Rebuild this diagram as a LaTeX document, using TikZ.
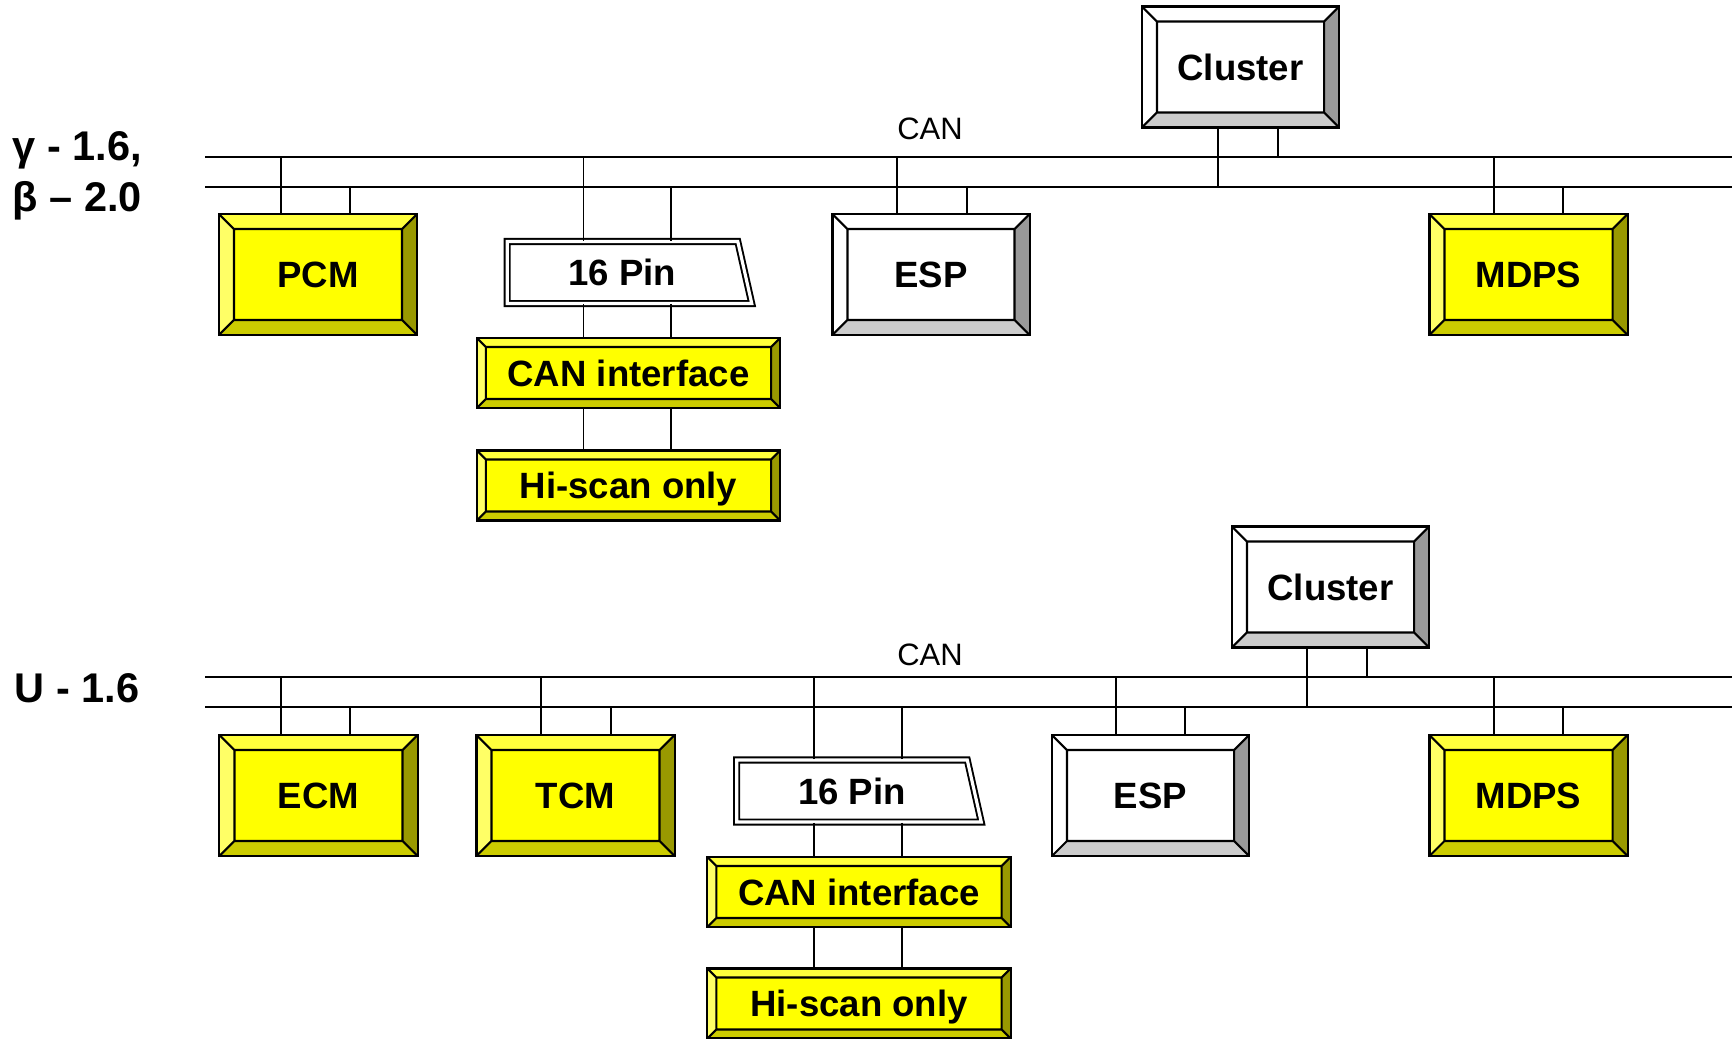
\documentclass[tikz,border=0pt]{standalone}
\usepackage{fontspec}
\setmainfont{Liberation Sans}
\usetikzlibrary{calc,shapes.geometric}
\definecolor{ecuface}{HTML}{FFFF00}
\definecolor{eculeft}{HTML}{FFFF66}
\definecolor{ecutop}{HTML}{FFFF3C}
\definecolor{ecuright}{HTML}{999900}
\definecolor{ecubottom}{HTML}{CCCC00}
\definecolor{greyright}{HTML}{999999}
\definecolor{greybottom}{HTML}{CCCCCC}
\newcommand{\boxfont}{\fontsize{10.4pt}{12pt}\selectfont\bfseries}
\newcommand{\carfont}{\fontsize{11.8pt}{14pt}\selectfont\bfseries}
\newcommand{\busfont}{\fontsize{8.8pt}{10pt}\selectfont}
\tikzset{
  bevel/.style n args={6}{rectangle, draw, line width=0.6pt, fill=#2, inner sep=0pt, font=\boxfont,
    text height=7.45pt, text depth=0pt,
    path picture={
      \coordinate (osw) at (path picture bounding box.south west);
      \coordinate (one) at (path picture bounding box.north east);
      \coordinate (ose) at (osw -| one);
      \coordinate (onw) at (one -| osw);
      \coordinate (isw) at ($(osw)+(#1,#1)$);
      \coordinate (ine) at ($(one)-(#1,#1)$);
      \coordinate (ise) at (isw -| ine);
      \coordinate (inw) at (ine -| isw);
      \fill[#3] (osw) -- (onw) -- (inw) -- (isw) -- cycle;
      \fill[#4] (onw) -- (one) -- (ine) -- (inw) -- cycle;
      \fill[#5] (one) -- (ose) -- (ise) -- (ine) -- cycle;
      \fill[#6] (ose) -- (osw) -- (isw) -- (ise) -- cycle;
      \draw[line width=0.6pt] (isw) rectangle (ine) (osw) -- (isw) (onw) -- (inw) (one) -- (ine) (ose) -- (ise);
    }},
  ecu/.style={bevel={1.5mm}{ecuface}{eculeft}{ecutop}{ecuright}{ecubottom}, minimum width=1.98cm, minimum height=1.21cm},
  ecuwhite/.style={bevel={1.5mm}{white}{white}{white}{greyright}{greybottom}, minimum width=1.97cm, minimum height=1.21cm},
  slim/.style={bevel={0.9mm}{ecuface}{eculeft}{ecutop}{ecuright}{ecubottom}, minimum width=3.03cm, minimum height=0.70cm},
  pin/.style={trapezium, trapezium left angle=90, trapezium right angle=76, trapezium stretches=true,
    draw, double, double distance=0.9pt, line width=0.55pt, fill=white, inner sep=0pt,
    minimum width=2.45cm, minimum height=0.62cm, font=\boxfont, text height=7.45pt, text depth=0pt},
  bus/.style={line width=0.6pt},
  wire/.style={line width=0.5pt},
  carlabel/.style={font=\carfont, inner sep=0pt, anchor=base west},
  buslabel/.style={font=\busfont, inner sep=0pt, anchor=base},
}
\begin{document}
\begin{tikzpicture}[x=0.01cm, y=-0.01cm]
\useasboundingbox (0,0) rectangle (1732,1039);

% gamma / beta bus
\coordinate (busAhi) at (205,157);
\coordinate (busAhiE) at (1732,157);
\coordinate (busAlo) at (205,187);
\coordinate (busAloE) at (1732,187);
\draw[bus] (busAhi) -- (busAhiE);
\draw[bus] (busAlo) -- (busAloE);
\node[buslabel] (canlabA) at (930,139) {CAN};
\node[carlabel] (carA) at (12,160) {γ - 1.6,};
\node[carlabel] (carAb) at (12,211) {β – 2.0};

\node[ecu] (pcmA) at (318,274.5) {PCM};
\node[pin] (pinA) at (622.5,272.5) {16 Pin};
\node[slim] (canA) at (628.5,373) {CAN interface};
\node[slim] (hiA) at (628.5,485.5) {Hi-scan only};
\node[ecuwhite] (espA) at (931,274.5) {ESP};
\node[ecu] (mdpsA) at (1528.5,274.5) {MDPS};
\node[ecuwhite] (clA) at (1240.5,67) {Cluster};

\draw[wire] ([xshift=-3.7mm]pcmA.north) -- ([xshift=-3.7mm]pcmA.north |- busAhi);
\draw[wire] ([xshift=3.2mm]pcmA.north) -- ([xshift=3.2mm]pcmA.north |- busAlo);
\draw[wire] ([xshift=-3.9mm]pinA.center |- pinA.north) -- ([xshift=-3.9mm]pinA.center |- busAhi);
\draw[wire] ([xshift=4.85mm]pinA.center |- pinA.north) -- ([xshift=4.85mm]pinA.center |- busAlo);
\draw[wire] ([xshift=-3.9mm]pinA.center |- pinA.south) -- ([xshift=-3.9mm]pinA.center |- canA.north);
\draw[wire] ([xshift=4.85mm]pinA.center |- pinA.south) -- ([xshift=4.85mm]pinA.center |- canA.north);
\draw[wire] ([xshift=-3.9mm]pinA.center |- canA.south) -- ([xshift=-3.9mm]pinA.center |- hiA.north);
\draw[wire] ([xshift=4.85mm]pinA.center |- canA.south) -- ([xshift=4.85mm]pinA.center |- hiA.north);
\draw[wire] ([xshift=-3.4mm]espA.north) -- ([xshift=-3.4mm]espA.north |- busAhi);
\draw[wire] ([xshift=3.6mm]espA.north) -- ([xshift=3.6mm]espA.north |- busAlo);
\draw[wire] ([xshift=-3.45mm]mdpsA.north) -- ([xshift=-3.45mm]mdpsA.north |- busAhi);
\draw[wire] ([xshift=3.45mm]mdpsA.north) -- ([xshift=3.45mm]mdpsA.north |- busAlo);
\draw[wire] ([xshift=-2.25mm]clA.south) -- ([xshift=-2.25mm]clA.south |- busAlo);
\draw[wire] ([xshift=3.75mm]clA.south) -- ([xshift=3.75mm]clA.south |- busAhi);

% U bus
\coordinate (busBhi) at (205,677);
\coordinate (busBhiE) at (1732,677);
\coordinate (busBlo) at (205,707);
\coordinate (busBloE) at (1732,707);
\draw[bus] (busBhi) -- (busBhiE);
\draw[bus] (busBlo) -- (busBloE);
\node[buslabel] (canlabB) at (930,665) {CAN};
\node[carlabel] (carB) at (14,702) {U - 1.6};

\node[ecu] (ecmB) at (318.5,795.5) {ECM};
\node[ecu] (tcmB) at (575.5,795.5) {TCM};
\node[pin] (pinB) at (852,791) {16 Pin};
\node[slim] (canB) at (859,892) {CAN interface};
\node[slim] (hiB) at (859,1003.5) {Hi-scan only};
\node[ecuwhite] (espB) at (1150.5,795.5) {ESP};
\node[ecu] (mdpsB) at (1528.5,795.5) {MDPS};
\node[ecuwhite] (clB) at (1330.5,587) {Cluster};

\draw[wire] ([xshift=-3.75mm]ecmB.north) -- ([xshift=-3.75mm]ecmB.north |- busBhi);
\draw[wire] ([xshift=3.15mm]ecmB.north) -- ([xshift=3.15mm]ecmB.north |- busBlo);
\draw[wire] ([xshift=-3.45mm]tcmB.north) -- ([xshift=-3.45mm]tcmB.north |- busBhi);
\draw[wire] ([xshift=3.55mm]tcmB.north) -- ([xshift=3.55mm]tcmB.north |- busBlo);
\draw[wire] ([xshift=-3.8mm]pinB.center |- pinB.north) -- ([xshift=-3.8mm]pinB.center |- busBhi);
\draw[wire] ([xshift=5mm]pinB.center |- pinB.north) -- ([xshift=5mm]pinB.center |- busBlo);
\draw[wire] ([xshift=-3.8mm]pinB.center |- pinB.south) -- ([xshift=-3.8mm]pinB.center |- canB.north);
\draw[wire] ([xshift=5mm]pinB.center |- pinB.south) -- ([xshift=5mm]pinB.center |- canB.north);
\draw[wire] ([xshift=-3.8mm]pinB.center |- canB.south) -- ([xshift=-3.8mm]pinB.center |- hiB.north);
\draw[wire] ([xshift=5mm]pinB.center |- canB.south) -- ([xshift=5mm]pinB.center |- hiB.north);
\draw[wire] ([xshift=-3.45mm]espB.north) -- ([xshift=-3.45mm]espB.north |- busBhi);
\draw[wire] ([xshift=3.45mm]espB.north) -- ([xshift=3.45mm]espB.north |- busBlo);
\draw[wire] ([xshift=-3.45mm]mdpsB.north) -- ([xshift=-3.45mm]mdpsB.north |- busBhi);
\draw[wire] ([xshift=3.45mm]mdpsB.north) -- ([xshift=3.45mm]mdpsB.north |- busBlo);
\draw[wire] ([xshift=-2.35mm]clB.south) -- ([xshift=-2.35mm]clB.south |- busBlo);
\draw[wire] ([xshift=3.65mm]clB.south) -- ([xshift=3.65mm]clB.south |- busBhi);
\end{tikzpicture}
\end{document}
